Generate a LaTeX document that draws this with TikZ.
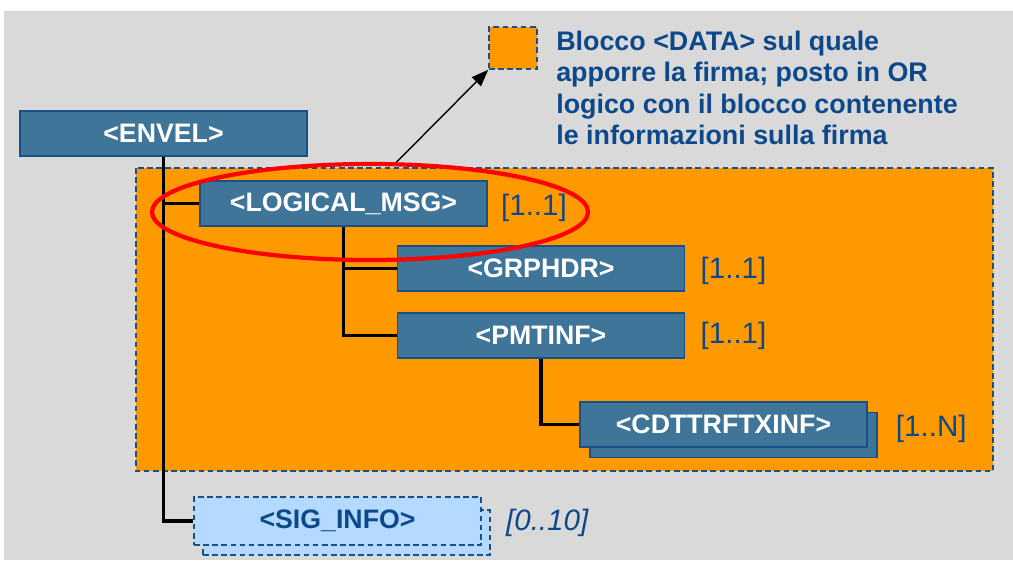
\documentclass[tikz,border=0pt]{standalone}
\usepackage{fontspec}
\setmainfont{Liberation Sans}
\usepackage{xcolor}
\usetikzlibrary{shapes.geometric,positioning,arrows.meta}

\definecolor{bggray}{RGB}{217,217,217}
\definecolor{envorange}{RGB}{255,153,0}
\definecolor{boxblue}{RGB}{62,117,152}
\definecolor{edgeblue}{RGB}{25,80,135}
\definecolor{txtblue}{RGB}{12,72,138}
\definecolor{sigblue}{RGB}{180,218,255}

\begin{document}
\begin{tikzpicture}[x=0.025cm, y=-0.025cm,
  dashline/.style={dash pattern=on 4pt off 2.5pt},
  elem/.style={rectangle, draw=edgeblue, line width=0.9pt, fill=boxblue, text=white,
    font=\fontsize{19}{20}\selectfont\bfseries, minimum width=7.175cm, minimum height=1.125cm, inner sep=0pt},
  sigelem/.style={elem, dashline, fill=sigblue, text=txtblue},
  mult/.style={text=txtblue, font=\fontsize{21}{24}\selectfont, inner sep=0pt},
  link/.style={line width=2.8pt, black}]
\useasboundingbox (0,0) rectangle (1013,560);
\fill[bggray] (4,11) rectangle (1013,560);

% Areas
\draw[edgeblue, dashline, line width=1.1pt, fill=envorange] (136,168) rectangle (993,471);
\node[draw=edgeblue, dashline, line width=1.1pt, fill=envorange, minimum width=1.2cm, minimum height=1.05cm, inner sep=0pt] (data) at (513,48) {};
\node[anchor=north west, align=left, text=txtblue, inner sep=0pt,
  font=\fontsize{19.1}{22.2}\selectfont\bfseries] (note) at (556,31)
  {Blocco <DATA> sul quale\\apporre la firma; posto in OR\\logico con il blocco contenente\\le informazioni sulla firma};

% Points
\node[elem] (envel) at (163.5,133.5) {<ENVEL>};
\node[elem] (logical) at (343.5,203.5) {<LOGICAL\_MSG>};
\node[elem] (grphdr) at (541,268.5) {<GRPHDR>};
\node[elem] (pmtinf) at (541,335.5) {<PMTINF>};
\node[elem] (cdtback) at (733.5,435) {};
\node[elem] (cdt) at (723.5,424.5) {<CDTTRFTXINF>};
\node[sigelem] (sigback) at (346.5,532.5) {};
\node[sigelem, minimum height=1.2cm] (sig) at (337.5,521) {<SIG\_INFO>};

\node[mult, right=0.33cm of logical, yshift=-0.1cm] (m1) {[1..1]};
\node[mult, right=0.38cm of grphdr, yshift=-0.05cm] (m2) {[1..1]};
\node[mult, right=0.38cm of pmtinf] (m3) {[1..1]};
\node[mult, right=0.45cm of cdtback, yshift=0.15cm] (m4) {[1..N]};
\node[mult, right=0.38cm of sigback, yshift=0.25cm, font=\fontsize{21}{24}\selectfont\itshape] (m5) {[0..10]};

%Lines
\draw[link] (envel.south) |- (logical.west);
\draw[link] (envel.south) |- (sig.west);
\draw[link] (logical.south) |- (grphdr.west);
\draw[link] (logical.south) |- (pmtinf.west);
\draw[link] (pmtinf.south) |- (cdt.west);

\node[ellipse, draw=red, line width=3pt, minimum width=10.9cm, minimum height=2.4cm] (ring) at (370,212) {};
\draw[-{Triangle[length=12pt,width=9pt]}, line width=1pt] (ring.62) -- (data.south west);
\end{tikzpicture}
\end{document}
